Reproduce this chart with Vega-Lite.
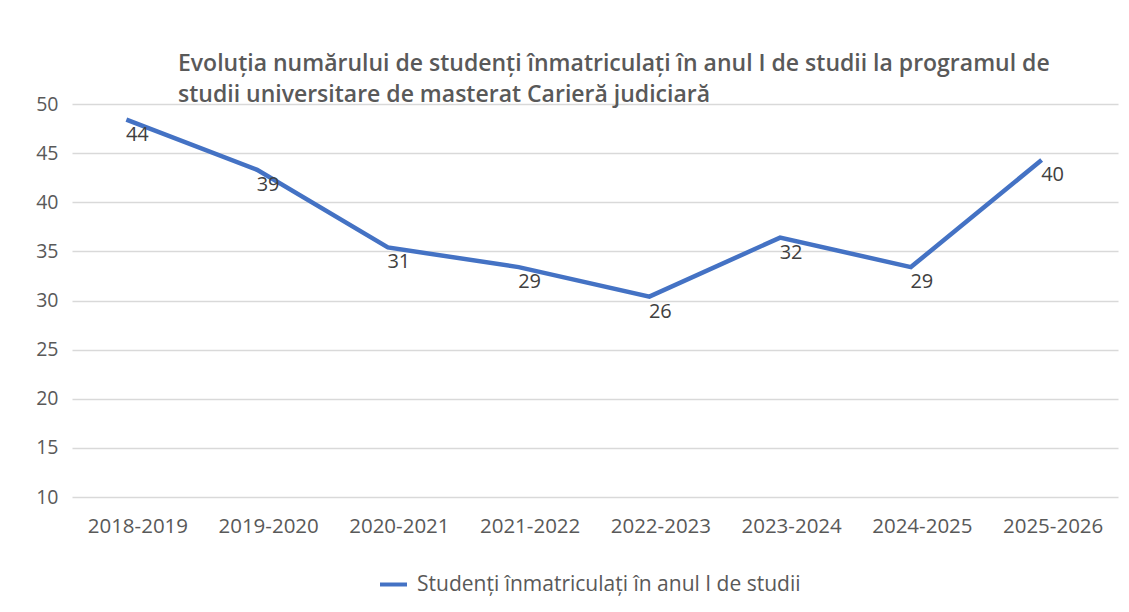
{
  "$schema": "https://vega.github.io/schema/vega-lite/v6.json",
  "width": 1046,
  "height": 393,
  "autosize": {"type": "none"},
  "padding": {"left": 72, "top": 104, "right": 11, "bottom": 115},
  "background": "white",
  "title": {
    "text": ["Evoluția numărului de studenți înmatriculați în anul I de studii la programul de", "studii universitare de masterat Carieră judiciară"],
    "anchor": "start",
    "frame": "group",
    "dx": 106,
    "offset": -13,
    "font": "Open Sans",
    "fontSize": 23,
    "fontWeight": 600,
    "color": "#595959",
    "lineHeight": 31
  },
  "data": {
    "values": [
      {"an": "2018-2019", "plotat": 48.4, "eticheta": 44, "serie": "Studenți înmatriculați în anul I de studii"},
      {"an": "2019-2020", "plotat": 43.3, "eticheta": 39, "serie": "Studenți înmatriculați în anul I de studii"},
      {"an": "2020-2021", "plotat": 35.4, "eticheta": 31, "serie": "Studenți înmatriculați în anul I de studii"},
      {"an": "2021-2022", "plotat": 33.4, "eticheta": 29, "serie": "Studenți înmatriculați în anul I de studii"},
      {"an": "2022-2023", "plotat": 30.4, "eticheta": 26, "serie": "Studenți înmatriculați în anul I de studii"},
      {"an": "2023-2024", "plotat": 36.4, "eticheta": 32, "serie": "Studenți înmatriculați în anul I de studii"},
      {"an": "2024-2025", "plotat": 33.4, "eticheta": 29, "serie": "Studenți înmatriculați în anul I de studii"},
      {"an": "2025-2026", "plotat": 44.3, "eticheta": 40, "serie": "Studenți înmatriculați în anul I de studii"}
    ]
  },
  "encoding": {
    "x": {
      "field": "an",
      "type": "ordinal",
      "sort": null,
      "scale": {"type": "point", "padding": 0.5},
      "axis": {
        "title": null,
        "domain": false,
        "ticks": false,
        "grid": false,
        "labelAngle": 0,
        "labelPadding": 19,
        "labelFont": "Open Sans",
        "labelFontSize": 20.5,
        "labelColor": "#595959"
      }
    },
    "y": {
      "field": "plotat",
      "type": "quantitative",
      "scale": {"domain": [10, 50], "nice": false, "zero": false},
      "axis": {
        "title": null,
        "values": [10, 15, 20, 25, 30, 35, 40, 45, 50],
        "domain": false,
        "ticks": false,
        "labelPadding": 14,
        "labelFont": "Open Sans",
        "labelFontSize": 19.5,
        "labelColor": "#595959",
        "gridColor": "#d9d9d9",
        "gridWidth": 1.3
      }
    }
  },
  "layer": [
    {
      "mark": {"type": "line", "strokeWidth": 4.5, "xOffset": -11},
      "encoding": {
        "color": {
          "field": "serie",
          "type": "nominal",
          "scale": {"range": ["#4472c4"]},
          "legend": {
            "title": null,
            "orient": "none",
            "legendX": 306,
            "legendY": 465,
            "padding": 0,
            "symbolType": "stroke",
            "symbolSize": 729,
            "symbolStrokeWidth": 4,
            "labelFont": "Open Sans",
            "labelFontSize": 21,
            "labelLimit": 0,
            "labelColor": "#595959",
            "labelOffset": 8
          }
        }
      }
    },
    {
      "mark": {"type": "text", "dy": 15, "font": "Open Sans", "fontSize": 20, "color": "#404040"},
      "encoding": {
        "text": {"field": "eticheta", "type": "quantitative"}
      }
    }
  ],
  "config": {"view": {"stroke": null}}
}
